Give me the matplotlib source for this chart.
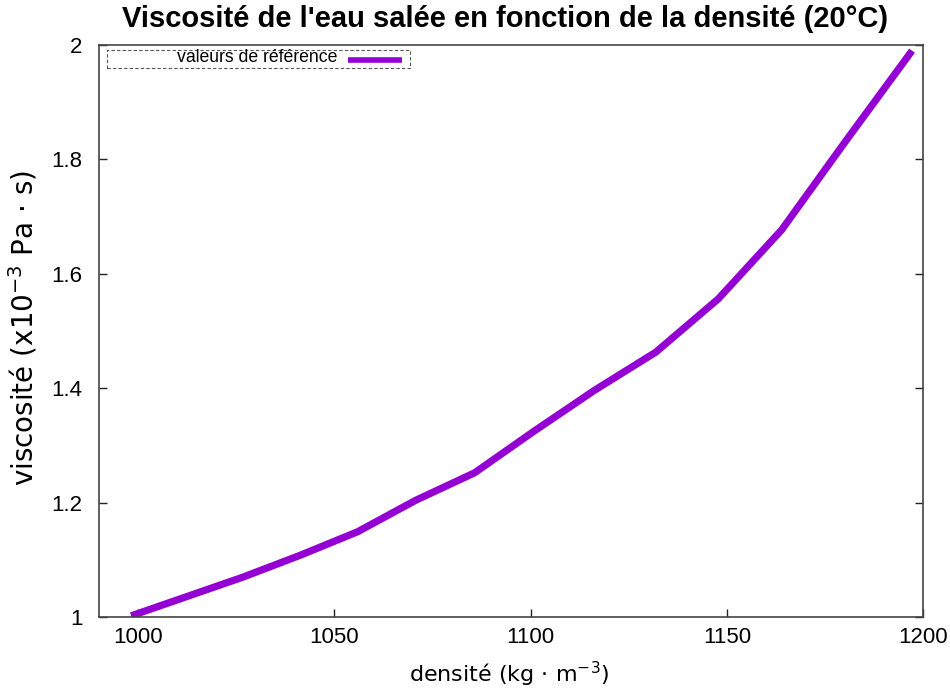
import matplotlib

matplotlib.use("Agg")
import matplotlib.pyplot as plt
from matplotlib.patches import Rectangle
from matplotlib.lines import Line2D
from matplotlib.ticker import FormatStrFormatter

# Eau salée (NaCl) à 20 °C : densité (kg/m3) et viscosité (mPa.s)
densite = [998.2, 1012.5, 1026.8, 1041.3, 1055.9, 1070.7, 1085.7,
           1100.9, 1116.2, 1131.9, 1147.8, 1164.0, 1180.4, 1197.2]
viscosite = [1.002, 1.036, 1.070, 1.108, 1.149, 1.204, 1.252,
             1.325, 1.396, 1.463, 1.556, 1.677, 1.833, 1.990]

x_ticks = [1000, 1050, 1100, 1150, 1200]
y_ticks = [1.0, 1.2, 1.4, 1.6, 1.8, 2.0]

COULEUR = "#9400d3"
TICK_FONT = "Liberation Sans"
LABEL_FONT = "DejaVu Sans"

fig = plt.figure(figsize=(9.5, 6.88), dpi=100)
ax = fig.add_axes([0.1042, 0.1032, 0.8674, 0.8314])

ax.plot(densite, viscosite, color=COULEUR, lw=5.2, solid_capstyle="butt",
        solid_joinstyle="round")

ax.set_xlim(990, 1200)
ax.set_ylim(1.0, 2.0)
ax.set_xticks(x_ticks)
ax.set_yticks(y_ticks)
ax.yaxis.set_major_formatter(FormatStrFormatter("%g"))
# graduations vers l'intérieur, reprises à droite mais pas en haut
ax.tick_params(direction="in", length=6, width=1, color="#222222",
               top=False, right=True, labelsize=16)
ax.tick_params(axis="y", pad=12)
ax.tick_params(axis="x", pad=7)
for lab in ax.get_xticklabels() + ax.get_yticklabels():
    lab.set_fontfamily(TICK_FONT)
for sp in ax.spines.values():
    sp.set_color("#444444")
    sp.set_linewidth(1.2)

ax.set_xlabel("densité (kg · m$^{-3}$)", fontsize=16, family=LABEL_FONT)
ax.set_ylabel("viscosité (x10$^{-3}$ Pa · s)", fontsize=20, family=LABEL_FONT)
ax.xaxis.set_label_coords(0.4976, -0.075)
ax.yaxis.set_label_coords(-0.072, 0.505)

fig.text(0.532, 0.972, "Viscosité de l'eau salée en fonction de la densité (20°C)",
         ha="center", va="center", fontsize=21, fontweight="bold",
         family=TICK_FONT)

# légende façon gnuplot : cadre pointillé, libellé aligné à droite
ax.add_patch(Rectangle((0.0097, 0.960), 0.3677, 0.0315, transform=ax.transAxes,
                       fill=False, ec="#555555", lw=0.8, ls=(0, (3, 2)),
                       clip_on=False))
ax.text(0.289, 0.978, "valeurs de référence", transform=ax.transAxes,
        ha="right", va="center", fontsize=12.7, family=TICK_FONT)
ax.add_line(Line2D([0.302, 0.368], [0.9735, 0.9735], transform=ax.transAxes,
                   color=COULEUR, lw=4, solid_capstyle="butt"))

fig.savefig("out.png", dpi=100)
